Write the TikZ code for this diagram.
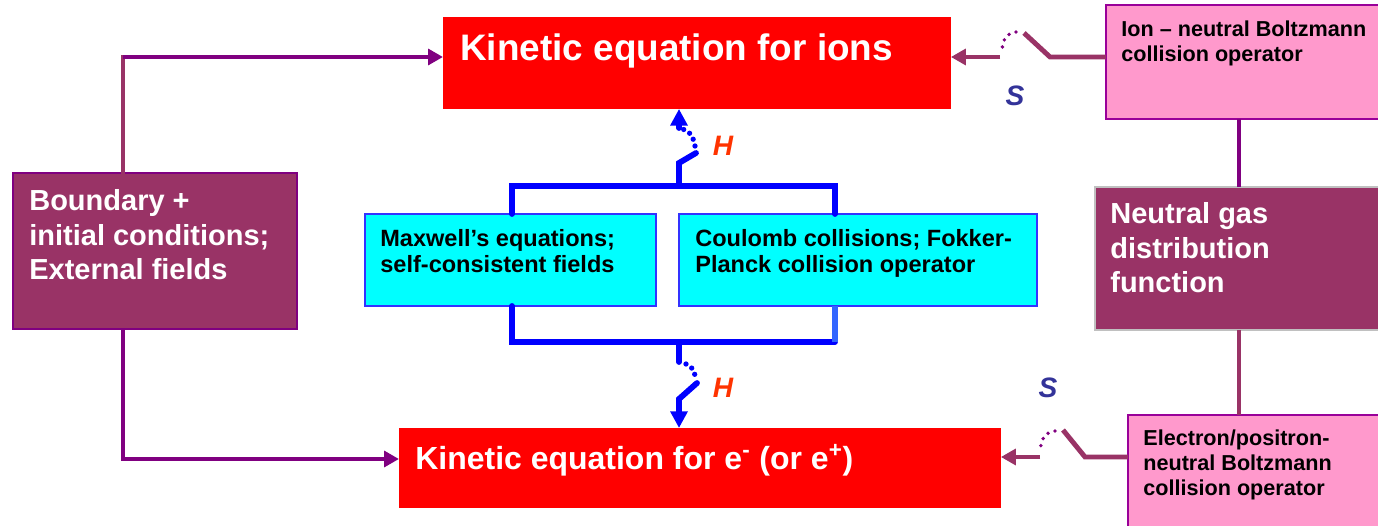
\documentclass[tikz,border=0pt]{standalone}
\usepackage{fontspec}
\setmainfont{Liberation Sans}
\usetikzlibrary{arrows.meta}
\definecolor{kinred}{HTML}{FF0000}
\definecolor{plum}{HTML}{993366}
\definecolor{wirepurple}{HTML}{800080}
\definecolor{rose}{HTML}{FF99CC}
\definecolor{roseedge}{HTML}{990099}
\definecolor{aqua}{HTML}{00FFFF}
\definecolor{aquaedge}{HTML}{3333FF}
\definecolor{hblue}{HTML}{0000FF}
\definecolor{paleblue}{HTML}{3366FF}
\definecolor{hred}{HTML}{FF3300}
\definecolor{sblue}{HTML}{333399}
\definecolor{silver}{HTML}{C0C0C0}
\tikzset{
  every picture/.style={x=0.02cm, y=-0.02cm, line join=miter},
  box/.style={anchor=north west, inner sep=0pt, outer sep=0pt, line width=1pt},
  kinbox/.style={box, fill=kinred},
  plumbox/.style={box, fill=plum, draw=#1},
  rosebox/.style={box, fill=rose, draw=roseedge},
  aquabox/.style={box, fill=aqua, draw=aquaedge, line width=1.2pt},
  txt/.style={anchor=base west, inner sep=0pt, align=left},
  bigtxt/.style={txt, text=white, font=\bfseries\fontsize{#1}{#1}\selectfont},
  midtxt/.style={txt, text=white, font=\bfseries\fontsize{16.5}{19.8}\selectfont},
  smalltxt/.style 2 args={txt, text=black, font=\bfseries\fontsize{#1}{#2}\selectfont},
  lab/.style={inner sep=0pt, font=\bfseries\itshape\fontsize{16}{19}\selectfont},
  wire/.style={draw=#1, line width=2.8pt},
  tip/.style={-{Triangle[length=8.5pt,width=9pt]}},
  bwire/.style={draw=hblue, line width=3.3pt, line cap=round},
  btip/.style={-{Triangle[length=9.5pt,width=9.5pt]}},
  bdots/.style={draw=hblue, line width=3pt, line cap=round, dash pattern=on 0pt off 4pt},
  sdots/.style={draw=wirepurple, line width=2.2pt, line cap=round, dash pattern=on 0pt off 4.2pt},
}
\begin{document}
\begin{tikzpicture}
\useasboundingbox (0,0) rectangle (1378,526);
\clip (0,0) rectangle (1378,526);

% boxes
\node[kinbox, minimum width=10.16cm, minimum height=1.84cm] (ionkin) at (443,17) {};
\node[kinbox, minimum width=12.04cm, minimum height=1.6cm] (elkin) at (399,428) {};
\node[plumbox=wirepurple, minimum width=5.68cm, minimum height=3.12cm] (bound) at (13,173) {};
\node[plumbox=silver, minimum width=5.9cm, minimum height=2.86cm] (neutral) at (1095,187) {};
\node[rosebox, minimum width=5.7cm, minimum height=2.28cm] (ionneu) at (1106,5) {};
\node[rosebox, minimum width=5.3cm, minimum height=2.4cm] (elneu) at (1128,415) {};
\node[aquabox, minimum width=5.82cm, minimum height=1.84cm] (maxw) at (365,214) {};
\node[aquabox, minimum width=7.16cm, minimum height=1.84cm] (coul) at (679,214) {};

% texts (base = last line)
\node[bigtxt=21] (iontxt) at ([shift={(17,44)}]ionkin.north west) {Kinetic equation for ions};
\node[bigtxt=18.2] (eltxt) at ([shift={(16,41)}]elkin.north west) {Kinetic equation for e\textsuperscript{-} (or e\textsuperscript{+})};
\node[midtxt] (boundtxt) at ([shift={(16,107)}]bound.north west) {Boundary +\\initial conditions;\\External fields};
\node[midtxt] (neutraltxt) at ([shift={(15,106)}]neutral.north west) {Neutral gas\\distribution\\function};
\node[smalltxt={12.3}{14.7}] (ionneutxt) at ([shift={(15,57)}]ionneu.north west) {Ion -- neutral Boltzmann\\collision operator};
\node[smalltxt={12.3}{14.2}] (elneutxt) at ([shift={(15,80)}]elneu.north west) {Electron/positron-\\neutral Boltzmann\\collision operator};
\node[smalltxt={13.4}{15.3}] (maxwtxt) at ([shift={(15,59)}]maxw.north west) {Maxwell’s equations;\\self-consistent fields};
\node[smalltxt={13.4}{15.3}] (coultxt) at ([shift={(16,59)}]coul.north west) {Coulomb collisions; Fokker-\\Planck collision operator};

% left feeds
\coordinate (lt) at (123,57);
\coordinate (lb) at (123,459);
\draw[wire=plum, line cap=rect] (bound.north -| lt) -- (lt);
\draw[wire=wirepurple, tip] (lt) -- (ionkin.west |- lt);
\draw[wire=wirepurple, tip] (bound.south -| lb) -- (lb) -- (elkin.west |- lb);

% neutral gas links
\coordinate (rx) at (1239,0);
\draw[wire=wirepurple] (ionneu.south -| rx) -- (neutral.north -| rx);
\draw[wire=plum] (neutral.south -| rx) -- (elneu.north -| rx);

% field bracket, upper switch H
\coordinate (bl) at (512,186);
\coordinate (bc) at (679,186);
\coordinate (br) at (835,186);
\draw[bwire] (maxw.north -| bl) -- (bl) -- (br) -- (coul.north -| br);
\draw[bwire] (bc) -- (679,163) -- (696,153);
\draw[bdots] (695,146) .. controls (692,134) .. (681,128);
\draw[bwire, btip] (679,128) -- (ionkin.south -| bc);
\node[lab, text=hred] (htop) at (723,146) {H};

% field bracket, lower switch H
\coordinate (dl) at (512,342);
\coordinate (dc) at (679,342);
\coordinate (dr) at (835,342);
\draw[bwire] (maxw.south -| dl) -- (dl) -- (dr);
\draw[draw=paleblue, line width=3.3pt] (dr) -- (coul.south -| dr);
\draw[bwire] (dc) -- (679,362);
\draw[bdots] (686,364) .. controls (693,368) .. (696,379);
\draw[bwire, btip] (697,383) -- (679,399) -- (elkin.north -| dc);
\node[lab, text=hred] (hbot) at (723,388) {H};

% collision switches S
\coordinate (st) at (1050,57);
\draw[wire=plum] (ionneu.west |- st) -- (st) -- (1024,33);
\draw[sdots] (1016,32) .. controls (1005,35) .. (1001,53);
\draw[wire=plum, tip] (1000,57) -- (ionkin.east |- st);
\node[lab, text=sblue] (stop) at (1015,96) {S};

\coordinate (sb) at (1085,457);
\draw[wire=plum] (elneu.west |- sb) -- (sb) -- (1063,430);
\draw[sdots] (1055,431) .. controls (1044,434) .. (1040,449);
\draw[wire=plum, tip] (1040,457) -- (elkin.east |- sb);
\node[lab, text=sblue] (sbot) at (1048,388) {S};
\end{tikzpicture}
\end{document}
